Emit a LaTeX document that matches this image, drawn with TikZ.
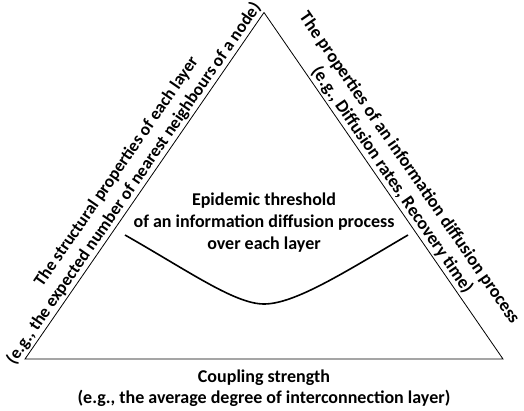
\documentclass[tikz,border=0pt]{standalone}
\usepackage{fontspec}
\setmainfont{Carlito}

\begin{document}
\begin{tikzpicture}[x=1pt, y=-1pt,
    axislabel/.style={font=\bfseries\fontsize{18}{21}\selectfont, align=center, inner sep=2pt}]
  \useasboundingbox (0,0) rectangle (524,410);
  % corners of the triangle
  \coordinate (top) at (264,12.5);
  \coordinate (bl) at (25,359);
  \coordinate (br) at (503,359);
  \draw[line width=0.8pt] (bl) -- (top) -- (br) -- cycle;
  % labels of the three sides
  \path (bl) -- (top) node[axislabel, font=\bfseries\fontsize{17.4}{21}\selectfont,
      pos=0.49, sloped, above] (structure)
    {The structural properties of each layer\\(e.g., the expected number of nearest neighbours of a node)};
  \path (top) -- (br) node[axislabel, pos=0.5, sloped, above] (diffusion)
    {The properties of an information diffusion process\\(e.g., Diffusion rates, Recovery time)};
  \node[axislabel, below] (coupling) at (264,368)
    {Coupling strength\\(e.g., the average degree of interconnection layer)};
  % threshold curve
  \node[axislabel, font=\bfseries\fontsize{18}{22}\selectfont] (threshold) at (264,223)
    {Epidemic threshold\\of an information diffusion process\\over each layer};
  \coordinate (thrL) at (125,235);
  \coordinate (thrB) at (264,304);
  \coordinate (thrR) at (408,235);
  \draw[line width=1.6pt] (thrL) .. controls (190,272) and (235,304) .. (thrB)
    .. controls (295,304) and (345,272) .. (thrR);
\end{tikzpicture}
\end{document}
